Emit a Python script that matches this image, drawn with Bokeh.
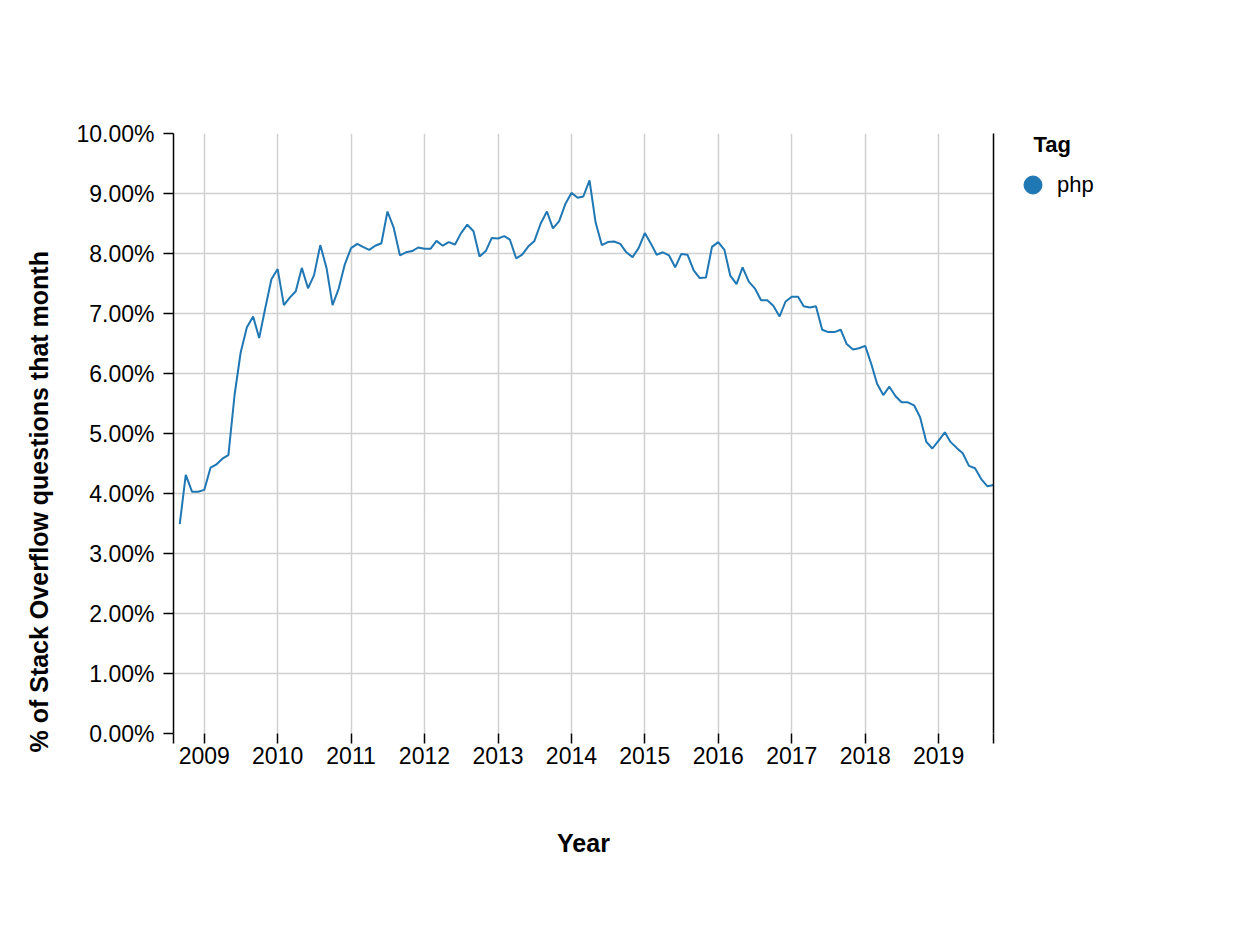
import pandas as pd
from bokeh.plotting import figure
from bokeh.layouts import row
from bokeh.models import (ColumnDataSource, Range1d, FixedTicker, CustomJSTickFormatter,
                          PrintfTickFormatter, LinearAxis, Legend, LegendItem, Title, Label)
from bokeh.embed import file_html
from bokeh.resources import INLINE

# ---------------- data (percent of Stack Overflow questions tagged php, monthly) ----------------
tag_name = "php"
first_month = "2008-09-01"
php_2008 = [3.49, 4.31, 4.03, 4.03]
php_2009 = [4.06, 4.43, 4.48, 4.58, 4.64, 5.65, 6.35, 6.77, 6.95, 6.59, 7.10, 7.57]
php_2010 = [7.74, 7.14, 7.26, 7.37, 7.76, 7.42, 7.64, 8.14, 7.76, 7.14, 7.42, 7.82]
php_2011 = [8.09, 8.16, 8.11, 8.06, 8.13, 8.17, 8.70, 8.43, 7.97, 8.02, 8.04, 8.10]
php_2012 = [8.08, 8.08, 8.21, 8.13, 8.19, 8.15, 8.34, 8.48, 8.37, 7.95, 8.04, 8.26]
php_2013 = [8.25, 8.29, 8.23, 7.92, 7.98, 8.12, 8.21, 8.50, 8.70, 8.42, 8.54, 8.82]
php_2014 = [9.01, 8.93, 8.95, 9.22, 8.52, 8.14, 8.19, 8.20, 8.16, 8.02, 7.94, 8.09]
php_2015 = [8.34, 8.16, 7.98, 8.02, 7.97, 7.77, 7.99, 7.98, 7.72, 7.59, 7.60, 8.11]
php_2016 = [8.19, 8.06, 7.63, 7.49, 7.77, 7.53, 7.42, 7.22, 7.22, 7.13, 6.95, 7.20]
php_2017 = [7.28, 7.28, 7.12, 7.10, 7.12, 6.73, 6.69, 6.69, 6.73, 6.49, 6.40, 6.42]
php_2018 = [6.46, 6.15, 5.83, 5.64, 5.78, 5.62, 5.52, 5.52, 5.47, 5.27, 4.86, 4.75]
php_2019 = [4.88, 5.02, 4.86, 4.76, 4.67, 4.46, 4.42, 4.24, 4.12, 4.14]

year_ticks = list(range(2009, 2020))
y_ticks = [0, 1, 2, 3, 4, 5, 6, 7, 8, 9, 10]
x_domain = ("2008-08-01", "2019-10-01")
legend_title = "Tag"

php_share = (php_2008 + php_2009 + php_2010 + php_2011 + php_2012 + php_2013 +
             php_2014 + php_2015 + php_2016 + php_2017 + php_2018 + php_2019)
months = pd.date_range(first_month, periods=len(php_share), freq="MS")
src = ColumnDataSource(dict(date=months, share=php_share))

FONT = "Liberation Sans"
BLUE = "#1f77b4"
GRID = "#d0d0d0"


def ms(ts):
    return (pd.Timestamp(ts) - pd.Timestamp("1970-01-01")).total_seconds() * 1000.0


x0, x1 = pd.Timestamp(x_domain[0]), pd.Timestamp(x_domain[1])

p = figure(width=1010, height=934, x_axis_type="datetime",
           x_range=Range1d(x0, x1), y_range=Range1d(0, 10),
           output_backend="svg", toolbar_location=None,
           min_border_left=173, min_border_right=17,
           min_border_top=133, min_border_bottom=201)
p.outline_line_color = None
p.background_fill_color = "white"
p.border_fill_color = "white"

line_r = p.line("date", "share", source=src, line_color=BLUE, line_width=2)

# x axis
x_tick_vals = [ms(x_domain[0])] + [ms(f"{y}-01-01") for y in year_ticks] + [ms(x_domain[1])]
xax = p.xaxis[0]
xax.ticker = FixedTicker(ticks=x_tick_vals)
xax.formatter = CustomJSTickFormatter(code="""
    const d = new Date(tick);
    return d.getUTCMonth() == 0 && d.getUTCDate() == 1 ? String(d.getUTCFullYear()) : '';
""")
xax.axis_line_color = None
xax.major_tick_line_color = "black"
xax.major_tick_line_width = 1.5
xax.major_tick_in = 0
xax.major_tick_out = 10
xax.minor_tick_line_color = None
xax.major_label_text_font = FONT
xax.major_label_text_font_size = "23px"
xax.major_label_text_color = "black"
xax.major_label_standoff = 3
xax.axis_label = "Year"
xax.axis_label_text_font = FONT
xax.axis_label_text_font_size = "25px"
xax.axis_label_text_font_style = "bold"
xax.axis_label_text_color = "black"
xax.axis_label_standoff = 62

# y axis
yax = p.yaxis[0]
yax.ticker = FixedTicker(ticks=y_ticks)
yax.formatter = PrintfTickFormatter(format="%.2f%%")
yax.axis_line_color = "black"
yax.axis_line_width = 1.5
yax.major_tick_line_color = "black"
yax.major_tick_line_width = 1.5
yax.major_tick_in = 0
yax.major_tick_out = 10
yax.minor_tick_line_color = None
yax.major_label_text_font = FONT
yax.major_label_text_font_size = "23px"
yax.major_label_text_color = "black"
yax.major_label_standoff = 9

# y axis title (side title so that it can sit slightly below centre, as in the reference)
ytitle = Title(text="% of Stack Overflow questions that month", align="left",
               offset=-19, standoff=42, text_font=FONT, text_font_size="25px",
               text_font_style="bold", text_color="black")
p.add_layout(ytitle, "left")

# right domain line
rax = LinearAxis(axis_line_color="black", axis_line_width=1.5,
                 major_tick_line_color=None, minor_tick_line_color=None,
                 major_label_text_font_size="0px", major_label_text_color=None)
p.add_layout(rax, "right")

# grids
p.xgrid.grid_line_color = GRID
p.xgrid.grid_line_width = 1.5
p.ygrid.grid_line_color = GRID
p.ygrid.grid_line_width = 1.5

# legend panel
lg = figure(width=246, height=934, output_backend="svg", toolbar_location=None,
            x_axis_location=None, y_axis_location=None,
            min_border_left=0, min_border_right=0, min_border_top=133, min_border_bottom=201)
lg.outline_line_color = None
lg.grid.visible = False
dot_r = lg.scatter("date", "share", source=src, size=18, fill_color=BLUE,
                   line_color=BLUE, visible=False)
legend = Legend(items=[LegendItem(label=tag_name, renderers=[dot_r])],
                location=(0, 526),
                label_text_font=FONT, label_text_font_size="22px",
                label_text_color="black", label_standoff=2,
                glyph_width=45, glyph_height=45,
                padding=0, margin=0, spacing=0,
                border_line_color=None, background_fill_alpha=0)
lg.add_layout(legend, "center")
lg.add_layout(Label(x=23, y=589, x_units="screen", y_units="screen", text=legend_title,
                    text_font=FONT, text_font_size="22px", text_font_style="bold",
                    text_color="black", text_baseline="middle", text_align="left"))

layout = row(p, lg, spacing=0)
open("out.html", "w").write(file_html(layout, INLINE))
